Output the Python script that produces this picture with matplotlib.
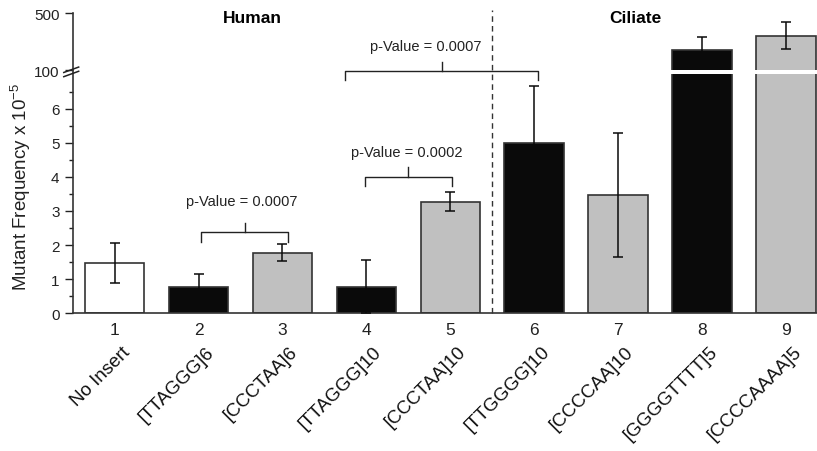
import numpy as np
import matplotlib
matplotlib.use('Agg')
import matplotlib.pyplot as plt
from matplotlib.scale import FuncScale

plt.rcParams['font.family'] = ['Liberation Sans', 'DejaVu Sans']
plt.rcParams['mathtext.fontset'] = 'custom'
plt.rcParams['mathtext.rm'] = 'Liberation Sans'

# data
positions = [1, 2, 3, 4, 5, 6, 7, 8, 9]
inserts = ['No Insert', '[TTAGGG]6', '[CCCTAA]6', '[TTAGGG]10', '[CCCTAA]10',
           '[TTGGGG]10', '[CCCCAA]10', '[GGGGTTTT]5', '[CCCCAAAA]5']
freq = [1.47, 0.78, 1.77, 0.78, 3.27, 5.0, 3.47, 242, 341]
err = [0.58, 0.36, 0.25, 0.78, 0.28, 1.67, 1.81, 89, 94]
bar_colors = ['white', '#0a0a0a', '#c0c0c0', '#0a0a0a', '#c0c0c0',
              '#0a0a0a', '#c0c0c0', '#0a0a0a', '#c0c0c0']
y_major = [0, 1, 2, 3, 4, 5, 6, 100, 500]
y_minor = [0.5, 1.5, 2.5, 3.5, 4.5, 5.5, 6.5]

# broken y axis: 0..L linear, then 100..500 squeezed on top
L = 7.13
k = 1.67 / 400


def fwd(v):
    v = np.asarray(v, dtype=float)
    return np.where(v <= L, v, np.where(v < 100, L, L + (v - 100) * k))


def inv(y):
    y = np.asarray(y, dtype=float)
    return np.where(y <= L, y, 100 + (y - L) / k)


fig = plt.figure(figsize=(8.17, 4.52), dpi=100)
ax = fig.add_axes([0.089, 0.3046, 0.911, 0.6644])
ax.set_yscale(FuncScale(ax.yaxis, (fwd, inv)))

ax.bar(positions, freq, width=0.71, color=bar_colors, edgecolor='#333333',
       linewidth=1.2, zorder=2)
ax.errorbar(positions, freq, yerr=err, fmt='none', ecolor='#0a0a0a',
            elinewidth=1.1, capsize=3.5, capthick=1.1, zorder=3)

ax.set_xlim(0.5, 9.37)
ax.set_ylim(0, 500)

# white gap across the tall bars at the break
ax.axhspan(7.02, 7.13, xmin=(7.55 - 0.5) / 8.87, xmax=1.0, color='white',
           lw=0, zorder=4)

ax.set_yticks(y_major)
ax.set_yticklabels([str(v) for v in y_major])
ax.set_yticks(y_minor, minor=True)
ax.tick_params(axis='y', which='major', length=5.5, width=1, labelsize=11,
               direction='out', pad=4, colors='#222222')
ax.tick_params(axis='y', which='minor', length=3, width=1, direction='out',
               colors='#222222')
ax.set_xticks(positions)
ax.set_xticklabels([str(p) for p in positions])
ax.tick_params(axis='x', length=0, labelsize=12.5, pad=6, colors='#222222')
for lab in ax.get_xticklabels() + ax.get_yticklabels():
    lab.set_fontfamily(['Liberation Sans Narrow', 'Liberation Sans'])

for s in ['top', 'right']:
    ax.spines[s].set_visible(False)
for s in ['left', 'bottom']:
    ax.spines[s].set_color('#333333')
    ax.spines[s].set_linewidth(1.2)

ax.set_ylabel('Mutant Frequency x 10$^{-5}$', fontsize=13.5, color='#222222')
ax.yaxis.set_label_coords(-0.054, 0.424)

# rotated insert names below the numbers
for p, name in zip(positions, inserts):
    ax.text(p + 0.08, -0.098, name, transform=ax.get_xaxis_transform(),
            rotation=45, rotation_mode='anchor', ha='right', va='top',
            fontsize=13.5, color='#111111')

# break marks on the y axis
for dy in (0.0, 0.014):
    ax.plot([-0.012, 0.008], [0.788 + dy, 0.806 + dy], transform=ax.transAxes,
            color='#222222', lw=1.1, clip_on=False, zorder=5)

# dashed separator between human and ciliate repeats
ax.axvline(5.5, ymin=0, ymax=1.01, color='#333333', lw=1, ls=(0, (4, 3)),
           clip_on=False, zorder=1)

ax.text(2.64, 0.985, 'Human', transform=ax.get_xaxis_transform(),
        ha='center', va='center', fontsize=12.5, fontweight='bold')
ax.text(7.2, 0.985, 'Ciliate', transform=ax.get_xaxis_transform(),
        ha='center', va='center', fontsize=12.5, fontweight='bold')


def bracket(x0, x1, xp, ybot, yh, ypeak, label, tx, ty):
    ax.plot([x0, x0, x1, x1], [ybot, yh, yh, ybot], color='#222222', lw=1,
            zorder=3)
    ax.plot([xp, xp], [yh, ypeak], color='#222222', lw=1, zorder=3)
    ax.text(tx, ty, label, ha='center', va='center', fontsize=10.5,
            color='#222222')


bracket(2.03, 3.06, 2.55, 2.1, 2.37, 2.65, 'p-Value = 0.0007', 2.52, 3.3)
bracket(3.98, 5.02, 4.5, 3.74, 4.0, 4.3, 'p-Value = 0.0002', 4.48, 4.73)
bracket(3.75, 6.05, 4.9, 6.84, 7.11, 158, 'p-Value = 0.0007', 4.71, 270)

fig.savefig('out.png', dpi=100)
